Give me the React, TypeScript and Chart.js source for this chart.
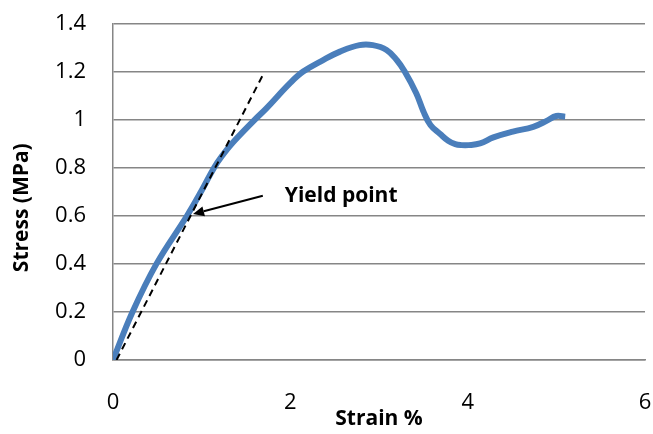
import React, { useEffect, useRef } from "react";
import { Chart, registerables } from "chart.js";

Chart.register(...registerables);

// Stress–strain curve
const strain = [0.0, 0.22, 0.49, 0.835, 1.0, 1.14, 1.24, 1.34, 1.6, 1.73, 1.994, 2.145, 2.37, 2.56, 2.78, 2.93, 3.085, 3.2, 3.29, 3.42, 3.5, 3.58, 3.69, 3.78, 3.86, 3.93, 4.01, 4.14, 4.29, 4.51, 4.74, 4.89, 5.0, 5.1];
const stress = [0.0, 0.2, 0.4, 0.6, 0.705, 0.8, 0.854, 0.9, 1.0, 1.047, 1.151, 1.2, 1.248, 1.283, 1.31, 1.31, 1.29, 1.248, 1.2, 1.11, 1.035, 0.978, 0.94, 0.912, 0.898, 0.894, 0.894, 0.901, 0.926, 0.95, 0.97, 0.995, 1.015, 1.012];

// Dashed tangent (elastic) line
const tangentStrain = [0.04, 1.69];
const tangentStress = [0, 1.186];

// Annotation: "Yield point" label and arrow (data coordinates)
const yieldLabel = "Yield point";
const yieldLabelPos = [1.938, 0.657];
const arrowFrom = [1.69, 0.683];
const arrowTo = [0.903, 0.607];

const xTickValues = [0, 2, 4, 6];
const yTickValues = [0, 0.2, 0.4, 0.6, 0.8, 1, 1.2, 1.4];
const xTitle = "Strain %";
const yTitle = "Stress (MPa)";

const FONT = "'Open Sans', 'Noto Sans', sans-serif";

const annotationPlugin = {
  id: "yieldAnnotation",
  afterDatasetsDraw(chart: any) {
    const { ctx, scales } = chart;
    const xs = scales.x;
    const ys = scales.y;
    const x1 = xs.getPixelForValue(arrowFrom[0]);
    const y1 = ys.getPixelForValue(arrowFrom[1]);
    const x2 = xs.getPixelForValue(arrowTo[0]);
    const y2 = ys.getPixelForValue(arrowTo[1]);
    ctx.save();
    ctx.strokeStyle = "#000";
    ctx.fillStyle = "#000";
    ctx.lineWidth = 2;
    const ang = Math.atan2(y2 - y1, x2 - x1);
    const headLen = 11;
    const headW = 5;
    const bx = x2 - headLen * Math.cos(ang);
    const by = y2 - headLen * Math.sin(ang);
    ctx.beginPath();
    ctx.moveTo(x1, y1);
    ctx.lineTo(bx, by);
    ctx.stroke();
    ctx.beginPath();
    ctx.moveTo(x2, y2);
    ctx.lineTo(bx + headW * Math.sin(ang), by - headW * Math.cos(ang));
    ctx.lineTo(bx - headW * Math.sin(ang), by + headW * Math.cos(ang));
    ctx.closePath();
    ctx.fill();
    ctx.font = `bold 21px ${FONT}`;
    ctx.textAlign = "left";
    ctx.textBaseline = "alphabetic";
    ctx.fillText(yieldLabel, xs.getPixelForValue(yieldLabelPos[0]), ys.getPixelForValue(yieldLabelPos[1]));

    // rotated y-axis title
    ctx.translate(ys.left + 22.5, (chart.chartArea.top + chart.chartArea.bottom) / 2 + 16);
    ctx.rotate(-Math.PI / 2);
    ctx.font = `bold 21px ${FONT}`;
    ctx.textAlign = "center";
    ctx.textBaseline = "middle";
    ctx.fillText(yTitle, 0, 0);
    ctx.restore();
  },
};

export default function App() {
  const ref = useRef<HTMLCanvasElement | null>(null);
  useEffect(() => {
    document.body.style.margin = "0";
    if (!ref.current) return;
    const chart = new Chart(ref.current, {
      type: "scatter",
      data: {
        datasets: [
          {
            label: "Tangent",
            data: tangentStrain.map((x, i) => ({ x, y: tangentStress[i] })),
            showLine: true,
            borderColor: "#000",
            borderWidth: 2,
            borderDash: [7, 5],
            pointRadius: 0,
          },
          {
            label: "Stress",
            data: strain.map((x, i) => ({ x, y: stress[i] })),
            showLine: true,
            borderColor: "#4a7ebb",
            borderWidth: 6,
            pointRadius: 0,
            tension: 0.4,
          },
        ],
      },
      options: {
        responsive: false,
        animation: false,
        layout: { padding: { top: 23.5, right: 8, left: 0, bottom: 0 } },
        plugins: { legend: { display: false }, tooltip: { enabled: false } },
        scales: {
          x: {
            type: "linear",
            min: 0,
            max: 6,
            afterBuildTicks: (s: any) => {
              s.ticks = xTickValues.map((v) => ({ value: v }));
            },
            afterFit: (s: any) => {
              s.height = 74;
              s.paddingLeft = 0;
              s.paddingRight = 0;
            },
            grid: { display: false, drawTicks: false },
            border: { display: true, color: "#868686", width: 1.5 },
            ticks: {
              color: "#000",
              font: { family: FONT, size: 22 },
              padding: 30,
              maxRotation: 0,
              callback: (v: any) => String(v),
            },
            title: {
              display: true,
              text: xTitle,
              color: "#000",
              font: { family: FONT, size: 21, weight: "bold" },
              padding: { top: 0, bottom: 2 },
            },
          },
          y: {
            type: "linear",
            min: 0,
            max: 1.4,
            afterBuildTicks: (s: any) => {
              s.ticks = yTickValues.map((v) => ({ value: v }));
            },
            afterFit: (s: any) => {
              s.width = 113;
              s.paddingTop = 0;
              s.paddingBottom = 0;
            },
            grid: { color: "#868686", lineWidth: 1.5, drawTicks: false },
            border: { display: true, color: "#868686", width: 1.5 },
            ticks: {
              color: "#000",
              font: { family: FONT, size: 22 },
              padding: 27,
              callback: (v: any) => String(Math.round(Number(v) * 10) / 10),
            },
            title: { display: false },
          },
        },
      },
      plugins: [annotationPlugin],
    } as any);
    return () => chart.destroy();
  }, []);
  return (
    <div style={{ position: "absolute", left: 0, top: 0, width: 653, height: 434, background: "#fff" }}>
      <canvas ref={ref} width={653} height={434} />
    </div>
  );
}
